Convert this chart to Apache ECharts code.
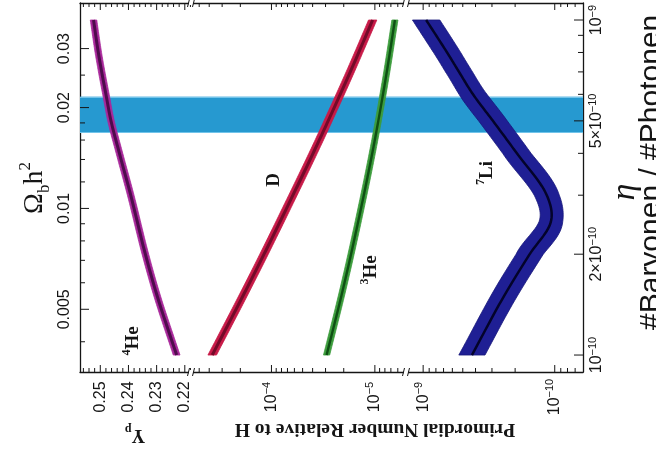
<!DOCTYPE html>
<html><head><meta charset="utf-8">
<script src="https://cdn.jsdelivr.net/npm/echarts@6.0.0/dist/echarts.min.js"></script>
<style>html,body{margin:0;padding:0;background:#fff;}#chart{width:656px;height:459px;}</style>
</head><body><div id="chart"></div>
<script>
// ---------------- data (η values in units of 1e-10) ----------------
const ETA_UNIT = 1e-10;
const he4Eta = [1, 1.5, 2, 3, 4, 5, 6, 7, 8, 10];
const he4Yp  = [0.2229, 0.2298, 0.2340, 0.2392, 0.2432, 0.2462, 0.2480, 0.2495, 0.2507, 0.2524];
const dEta   = [1, 1.5, 2, 3, 4, 5, 7, 10];
const dH     = [3.74e-4, 1.89e-4, 1.18e-4, 6.2e-5, 3.96e-5, 2.83e-5, 1.73e-5, 1.05e-5];
const he3Eta = [1, 1.5, 2, 3, 4, 5, 7, 10];
const he3H   = [2.93e-5, 2.11e-5, 1.70e-5, 1.28e-5, 1.06e-5, 9.26e-6, 7.67e-6, 6.4e-6];
const li7Eta = [1, 1.5, 2, 2.5, 3, 4, 5, 6, 7, 8, 10];
const li7H   = [4.26e-10, 2.43e-10, 1.55e-10, 1.07e-10, 1.15e-10, 1.94e-10, 2.95e-10, 4.18e-10, 5.34e-10, 6.58e-10, 9.49e-10];
const bandEta = [4.6, 5.9];

// ---------------- ticks ----------------
const ypTickMajor = [0.22, 0.23, 0.24, 0.25];
const ypTickLabels = ['0.22', '0.23', '0.24', '0.25'];
const ypTickMinor = [0.218, 0.222, 0.224, 0.226, 0.228, 0.232, 0.234, 0.236, 0.238, 0.242, 0.244, 0.246, 0.248, 0.252, 0.254, 0.256];
const dTickMajor = [1e-4, 1e-5];
const dTickLabels = ['10^-4', '10^-5'];
const dTickMinor = [5e-4, 4e-4, 3e-4, 2e-4, 9e-5, 8e-5, 7e-5, 6e-5, 5e-5, 4e-5, 3e-5, 2e-5, 9e-6, 8e-6, 7e-6, 6e-6];
const liTickMajor = [1e-9, 1e-10];
const liTickLabels = ['10^-9', '10^-10'];
const liTickMinor = [9e-10, 8e-10, 7e-10, 6e-10, 5e-10, 4e-10, 3e-10, 2e-10, 9e-11, 8e-11, 7e-11];
const etaTickMajor = [1, 2, 5, 10];
const etaTickLabels = ['10^-10', '2×10^-10', '5×10^-10', '10^-9'];
const etaTickMinor = [3, 4, 6, 7, 8, 9];
const omegaTickMajor = [0.005, 0.01, 0.02, 0.03];
const omegaTickLabels = ['0.005', '0.01', '0.02', '0.03'];
const omegaTickMinor = [0.004, 0.006, 0.007, 0.008, 0.009, 0.012, 0.014, 0.016, 0.018, 0.025];

// ---------------- layout / scales ----------------
const K_OMEGA = 273.9e-10;           // η = 273.9e-10 · Ω_b h²
const ETA_MIN = 0.89e-10, ETA_MAX = 1.124e-9;
const TOP = 3, HEIGHT = 369;
const SANS = '"Liberation Sans", Arial, sans-serif';
const SERIF = '"Liberation Serif", "Times New Roman", serif';
const INK = '#151515';

function supText(label) {
  const i = label.indexOf('^');
  if (i < 0) return '{b|' + label + '}';
  return '{b|' + label.slice(0, i) + '}{s|' + label.slice(i + 1).replace('-', '\u2212') + '}';
}
const tickRich = {
  b: { fontSize: 16, fontFamily: SANS, lineHeight: 20, fill: INK, color: INK },
  s: { fontSize: 11, fontFamily: SANS, lineHeight: 11, verticalAlign: 'top', fill: INK, color: INK }
};
function tickLabel(x, y, label) {
  return { type: 'text', x: x, y: y, rotation: Math.PI / 2, silent: true,
    style: { text: supText(label), rich: tickRich, align: 'center', verticalAlign: 'middle', fill: INK } };
}
function seg(x1, y1, x2, y2, w) {
  return { type: 'line', shape: { x1: x1, y1: y1, x2: x2, y2: y2 }, style: { stroke: INK, lineWidth: w || 1 } };
}
function xTicks(xi, yi, yRef, majors, labels, minors) {
  const data = majors.map(v => [v, yRef, 1]).concat(minors.map(v => [v, yRef, 0]));
  return { type: 'custom', xAxisIndex: xi, yAxisIndex: yi, data: data, clip: false, silent: true, z: 6,
    renderItem(params, api) {
      const cs = params.coordSys;
      const x = api.coord([api.value(0), api.value(1)])[0];
      const major = api.value(2) === 1;
      const len = major ? 7 : 4;
      const yb = cs.y + cs.height, yt = cs.y;
      const ch = [seg(x, yb, x, yb - len), seg(x, yt, x, yt + len)];
      if (major) ch.push(tickLabel(x, yb + 25, labels[params.dataIndex]));
      return { type: 'group', children: ch };
    } };
}
function yTicks(xi, yi, xRef, majors, labels, minors, side, scale) {
  const data = majors.map(v => [xRef, v * scale, 1]).concat(minors.map(v => [xRef, v * scale, 0]));
  return { type: 'custom', xAxisIndex: xi, yAxisIndex: yi, data: data, clip: false, silent: true, z: 6,
    renderItem(params, api) {
      const cs = params.coordSys;
      const y = api.coord([api.value(0), api.value(1)])[1];
      const major = api.value(2) === 1;
      const len = major ? 9 : 5;
      const ch = [];
      if (side === 'left') {
        ch.push(seg(cs.x, y, cs.x + len, y));
        if (major) ch.push(tickLabel(cs.x - 15, y, labels[params.dataIndex]));
      } else {
        const xr = cs.x + cs.width;
        ch.push(seg(xr, y, xr - len, y));
        if (major) ch.push(tickLabel(xr + 14, y, labels[params.dataIndex]));
      }
      return { type: 'group', children: ch };
    } };
}
// smooth x(y) curve through pixel points (cubic Hermite), returns [x, y, dx/dy]
function hermite(pts, n) {
  const sl = (a, b) => (b[0] - a[0]) / (b[1] - a[1]);
  const m = pts.map((p, i) => {
    if (i === 0) return sl(pts[0], pts[1]);
    if (i === pts.length - 1) return sl(pts[i - 1], pts[i]);
    return (sl(pts[i - 1], pts[i]) + sl(pts[i], pts[i + 1])) / 2;
  });
  const out = [];
  for (let i = 0; i < pts.length - 1; i++) {
    const x0 = pts[i][0], y0 = pts[i][1], x1 = pts[i + 1][0], y1 = pts[i + 1][1], h = y1 - y0;
    for (let k = 0; k < n; k++) {
      const t = k / n, t2 = t * t, t3 = t2 * t;
      const x = (2 * t3 - 3 * t2 + 1) * x0 + (t3 - 2 * t2 + t) * h * m[i] + (-2 * t3 + 3 * t2) * x1 + (t3 - t2) * h * m[i + 1];
      const dx = ((6 * t2 - 6 * t) * x0 + (3 * t2 - 4 * t + 1) * h * m[i] + (-6 * t2 + 6 * t) * x1 + (3 * t2 - 2 * t) * h * m[i + 1]) / h;
      out.push([x, y0 + h * t, dx]);
    }
  }
  const L = pts.length - 1;
  out.push([pts[L][0], pts[L][1], m[L]]);
  return out;
}
function curveSeries(xi, yi, etas, vals, st) {
  const data = etas.map((e, i) => [vals[i], e * ETA_UNIT]);
  return { type: 'custom', xAxisIndex: xi, yAxisIndex: yi, data: data, clip: false, silent: true, z: 4,
    renderItem(params, api) {
      if (params.dataIndex !== 0) return;
      const pts = data.map(d => api.coord(d));
      const s = hermite(pts, 14);
      const left = s.map(q => [q[0] - st.hw * Math.sqrt(1 + q[2] * q[2]), q[1]]);
      const right = s.map(q => [q[0] + st.hw * Math.sqrt(1 + q[2] * q[2]), q[1]]).reverse();
      return { type: 'group', children: [
        { type: 'polygon', shape: { points: left.concat(right) }, style: { fill: st.fill, stroke: st.edge || st.fill, lineWidth: 0.8 } },
        { type: 'polyline', shape: { points: s.map(q => [q[0], q[1]]) }, style: { stroke: st.core, lineWidth: st.coreW, fill: null } }
      ] };
    } };
}
function bandSeries(xi, yi, xRef) {
  const data = [[xRef, bandEta[0] * ETA_UNIT], [xRef, bandEta[1] * ETA_UNIT]];
  return { type: 'custom', xAxisIndex: xi, yAxisIndex: yi, data: data, clip: false, silent: true, z: 2,
    renderItem(params, api) {
      if (params.dataIndex !== 0) return;
      const cs = params.coordSys;
      const y0 = api.coord(data[0])[1], y1 = api.coord(data[1])[1];
      return { type: 'group', children: [
        { type: 'rect', shape: { x: cs.x, y: y1, width: cs.width, height: y0 - y1 }, style: { fill: '#2699d0' } },
        { type: 'line', shape: { x1: cs.x, y1: y1 + 0.5, x2: cs.x + cs.width, y2: y1 + 0.5 }, style: { stroke: '#72c4ea', lineWidth: 1.2 } },
        { type: 'line', shape: { x1: cs.x, y1: y0 - 0.5, x2: cs.x + cs.width, y2: y0 - 0.5 }, style: { stroke: '#72c4ea', lineWidth: 1.2 } }
      ] };
    } };
}
function breakSeries() {
  return { type: 'custom', xAxisIndex: 2, yAxisIndex: 2, data: [[1e-4, 1e-10]], clip: false, silent: true, z: 7,
    renderItem(params) {
      const cs = params.coordSys, ch = [];
      [cs.x, cs.x + cs.width].forEach(bx => {
        [cs.y, cs.y + cs.height].forEach(by => {
          ch.push({ type: 'rect', shape: { x: bx - 2, y: by - 2, width: 4, height: 4 }, style: { fill: '#fff' } });
          ch.push(seg(bx - 3.5, by + 4, bx - 1.5, by - 4, 1));
          ch.push(seg(bx + 1.5, by + 4, bx + 3.5, by - 4, 1));
        });
      });
      return { type: 'group', children: ch };
    } };
}

const axisLine = { show: true, onZero: false, lineStyle: { color: INK, width: 1.3 } };
function xAx(grid, pos, type, min, max) {
  return { gridIndex: grid, position: pos, type: type, min: min, max: max, inverse: true,
    axisLine: axisLine, axisTick: { show: false }, axisLabel: { show: false }, splitLine: { show: false }, minorTick: { show: false } };
}
function yAx(grid, pos, min, max, show) {
  return { gridIndex: grid, position: pos, type: 'log', logBase: 10, min: min, max: max, show: show,
    axisLine: axisLine, axisTick: { show: false }, axisLabel: { show: false }, splitLine: { show: false }, minorTick: { show: false } };
}

const option = {
  animation: false,
  backgroundColor: '#ffffff',
  grid: [
    { left: 80, top: TOP, width: 111, height: HEIGHT, outerBoundsMode: 'none', containLabel: false },
    { left: 191, top: TOP, width: 215, height: HEIGHT, outerBoundsMode: 'none', containLabel: false },
    { left: 406, top: TOP, width: 177, height: HEIGHT, outerBoundsMode: 'none', containLabel: false }
  ],
  xAxis: [
    xAx(0, 'bottom', 'value', 0.2178, 0.2572), xAx(0, 'top', 'value', 0.2178, 0.2572),
    xAx(1, 'bottom', 'log', 5e-6, 6e-4), xAx(1, 'top', 'log', 5e-6, 6e-4),
    xAx(2, 'bottom', 'log', 6.1e-11, 1.35e-9), xAx(2, 'top', 'log', 6.1e-11, 1.35e-9)
  ],
  yAxis: [
    yAx(0, 'left', ETA_MIN, ETA_MAX, false),
    yAx(0, 'left', ETA_MIN / K_OMEGA, ETA_MAX / K_OMEGA, true),
    yAx(1, 'left', ETA_MIN, ETA_MAX, false),
    yAx(2, 'right', ETA_MIN, ETA_MAX, true)
  ],
  series: [
    bandSeries(0, 0, 0.24), bandSeries(2, 2, 1e-4), bandSeries(4, 3, 1e-9),
    curveSeries(0, 0, he4Eta, he4Yp, { hw: 3.2, fill: '#a8289a', core: '#4e0c4c', coreW: 3 }),
    curveSeries(2, 2, dEta, dH, { hw: 3.8, fill: '#c81a48', core: '#730a29', coreW: 3 }),
    curveSeries(2, 2, he3Eta, he3H, { hw: 3.0, fill: '#3c9c3c', core: '#0f4f14', coreW: 2.4 }),
    curveSeries(4, 3, li7Eta, li7H, { hw: 11.5, fill: '#1f1f94', edge: '#17177a', core: '#03032a', coreW: 2.5 }),
    xTicks(0, 0, 1e-10, ypTickMajor, ypTickLabels, ypTickMinor),
    xTicks(2, 2, 1e-10, dTickMajor, dTickLabels, dTickMinor),
    xTicks(4, 3, 1e-10, liTickMajor, liTickLabels, liTickMinor),
    yTicks(0, 1, 0.24, omegaTickMajor, omegaTickLabels, omegaTickMinor, 'left', 1),
    yTicks(4, 3, 1e-9, etaTickMajor, etaTickLabels, etaTickMinor, 'right', ETA_UNIT),
    breakSeries()
  ],
  graphic: { elements: [
    { type: 'text', x: 35, y: 188, rotation: Math.PI / 2, silent: true,
      style: { text: '{a|Ω}{sb|b}{a|h}{sp|2}', align: 'center', verticalAlign: 'middle',
        rich: { a: { fontSize: 28, fontFamily: SERIF, lineHeight: 36, fill: INK },
                sb: { fontSize: 17, fontFamily: SERIF, lineHeight: 17, verticalAlign: 'bottom', fill: INK },
                sp: { fontSize: 17, fontFamily: SERIF, lineHeight: 17, verticalAlign: 'top', fill: INK } } } },
    { type: 'text', x: 135, y: 435, rotation: Math.PI, silent: true,
      style: { text: '{a|Y}{sb|p}', align: 'center', verticalAlign: 'middle',
        rich: { a: { fontSize: 19, fontFamily: SERIF, fontWeight: 'bold', lineHeight: 24, fill: INK },
                sb: { fontSize: 12, fontFamily: SERIF, fontWeight: 'bold', lineHeight: 12, verticalAlign: 'bottom', fill: INK } } } },
    { type: 'text', x: 375, y: 429, rotation: Math.PI, silent: true,
      style: { text: 'Primordial Number Relative to H', align: 'center', verticalAlign: 'middle',
        font: 'bold 19.5px ' + SERIF, fill: INK } },
    { type: 'text', x: 625, y: 192, rotation: Math.PI / 2, silent: true,
      style: { text: 'η', align: 'center', verticalAlign: 'middle', font: 'italic 34px ' + SERIF, fill: INK } },
    { type: 'text', x: 652, y: 330, rotation: Math.PI / 2, silent: true,
      style: { text: '#Baryonen / #Photonen', align: 'left', verticalAlign: 'middle', font: '30px ' + SANS, fill: INK } },
    ...[['D', 274, 180], ['{s|3}{b|He}', 371, 270], ['{s|4}{b|He}', 133, 341], ['{s|7}{b|Li}', 487, 173]].map(a => ({
      type: 'text', x: a[1], y: a[2], rotation: Math.PI / 2, silent: true,
      style: { text: a[0].indexOf('{') < 0 ? '{b|' + a[0] + '}' : a[0], align: 'center', verticalAlign: 'middle',
        rich: { b: { fontSize: 19, fontFamily: SERIF, fontWeight: 'bold', lineHeight: 24, fill: INK },
                s: { fontSize: 12, fontFamily: SERIF, fontWeight: 'bold', lineHeight: 12, verticalAlign: 'top', fill: INK } } }
    }))
  ] }
};
const chart = echarts.init(document.getElementById('chart'), null, { renderer: 'canvas' });
chart.setOption(option);
</script></body></html>
